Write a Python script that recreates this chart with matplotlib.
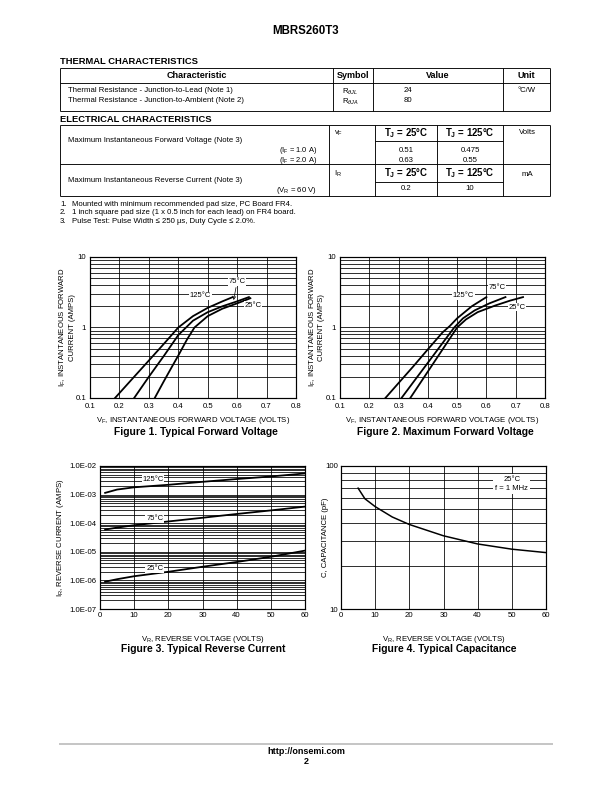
import matplotlib
matplotlib.use("Agg")
import matplotlib.pyplot as plt
from matplotlib.ticker import NullFormatter

plt.rcParams['font.family'] = ['Liberation Sans', 'DejaVu Sans']
plt.rcParams['mathtext.fontset'] = 'custom'
plt.rcParams['mathtext.rm'] = 'Liberation Sans'
plt.rcParams['mathtext.it'] = 'Liberation Sans:italic'
plt.rcParams['mathtext.bf'] = 'Liberation Sans:bold'

# ---- table data ----
thermal_cols = ["Characteristic", "Symbol", "Value", "Unit"]
thermal_chars = ["Thermal Resistance - Junction-to-Lead (Note 1)",
                 "Thermal Resistance - Junction-to-Ambient (Note 2)"]
thermal_syms = [r"R$_{\theta JL}$", r"R$_{\theta JA}$"]
thermal_vals = ["24", "80"]
thermal_unit = "°C/W"

notes = ["Mounted with minimum recommended pad size, PC Board FR4.",
         "1 inch square pad size (1 x 0.5 inch for each lead) on FR4 board.",
         "Pulse Test: Pulse Width \u2264 250 \u00b5s, Duty Cycle \u2264 2.0%."]

# ---- figure 1: typical forward voltage ----
typ_125_v = [0.185, 0.25, 0.30, 0.35, 0.40, 0.45, 0.50, 0.55, 0.585]
typ_125_i = [0.10, 0.20, 0.34, 0.58, 1.0, 1.45, 1.9, 2.35, 2.7]
typ_75_v = [0.25, 0.30, 0.35, 0.40, 0.45, 0.50, 0.55, 0.60, 0.64]
typ_75_i = [0.10, 0.20, 0.39, 0.78, 1.25, 1.65, 2.0, 2.35, 2.7]
typ_25_v = [0.32, 0.35, 0.38, 0.40, 0.43, 0.455, 0.50, 0.55, 0.60, 0.645]
typ_25_i = [0.10, 0.17, 0.285, 0.40, 0.68, 1.0, 1.45, 1.85, 2.2, 2.6]

# ---- figure 2: maximum forward voltage ----
max_125_v = [0.255, 0.30, 0.35, 0.40, 0.45, 0.475, 0.50, 0.55, 0.60]
max_125_i = [0.10, 0.163, 0.28, 0.49, 0.85, 1.05, 1.35, 2.0, 2.7]
max_75_v = [0.31, 0.35, 0.40, 0.45, 0.49, 0.52, 0.56, 0.61, 0.665]
max_75_i = [0.10, 0.167, 0.316, 0.60, 1.0, 1.35, 1.75, 2.2, 2.7]
max_25_v = [0.34, 0.40, 0.45, 0.50, 0.53, 0.57, 0.63, 0.68, 0.725]
max_25_i = [0.10, 0.237, 0.487, 1.0, 1.3, 1.65, 2.05, 2.4, 2.7]

# ---- figure 3: typical reverse current ----
rev_v = [1.5, 5, 10, 20, 30, 40, 50, 60]
rev_125 = [1.15e-3, 1.5e-3, 1.8e-3, 2.2e-3, 2.8e-3, 3.5e-3, 4.3e-3, 5.5e-3]
rev_75 = [6.0e-5, 7.0e-5, 8.5e-5, 1.15e-4, 1.55e-4, 2.1e-4, 2.8e-4, 3.8e-4]
rev_25 = [9.0e-7, 1.1e-6, 1.4e-6, 2.0e-6, 3.0e-6, 4.4e-6, 6.7e-6, 1.1e-5]

# ---- figure 4: typical capacitance ----
cap_v = [5, 7, 10, 15, 20, 30, 40, 50, 60]
cap_pf = [70, 59, 52, 44, 39, 32.5, 28.5, 26.2, 24.8]

W, H = 612, 792
fig = plt.figure(figsize=(W / 72, H / 72), dpi=72)

body = 7.8      # table / notes text
tick_fs = 7.8
xlab_fs = 7.8
cap_fs = 10.3

# page overlay in pixel coordinates
pg = fig.add_axes([0, 0, 1, 1])
pg.set_xlim(0, W)
pg.set_ylim(H, 0)
pg.axis('off')

pg.text(306, 31, "MBRS260T3", ha='center', va='center', fontsize=11.5, fontweight='bold')

# thermal table
pg.text(60, 61, "THERMAL CHARACTERISTICS", va='center', fontsize=9.4, fontweight='bold')
tl, tr, tt, th, tb = 60, 550, 68, 83, 111
tdiv = [333, 373, 503]
pg.hlines([tt, th, tb], tl, tr, color='black', lw=0.9)
pg.vlines([tl, tr] + tdiv, tt, tb, color='black', lw=0.9)
edges = [tl] + tdiv + [tr]
for k, name in enumerate(thermal_cols):
    pg.text((edges[k] + edges[k + 1]) / 2, 76, name, ha='center', va='center',
            fontsize=9, fontweight='bold')
for k in range(2):
    y = 91 + k * 10
    pg.text(68, y, thermal_chars[k], va='center', fontsize=body)
    pg.text(342, y + 1, thermal_syms[k], va='center', fontsize=body)
    pg.text(408, y, thermal_vals[k], ha='center', va='center', fontsize=body)
pg.text(518, 91, thermal_unit, va='center', fontsize=body)

# electrical table
pg.text(60, 119, "ELECTRICAL CHARACTERISTICS", va='center', fontsize=9.4, fontweight='bold')
el, er, et, em, eb = 60, 550, 125, 164, 196
ediv = [329, 375, 437, 503]
pg.hlines([et, em, eb], el, er, color='black', lw=0.9)
pg.hlines([141, 182], 375, 503, color='black', lw=0.9)
pg.vlines([el, er] + ediv, et, eb, color='black', lw=0.9)

tj25 = r"T$_\mathbf{J}$ = 25°C"
tj125 = r"T$_\mathbf{J}$ = 125°C"
hd = 9.6
pg.text(68, 141, "Maximum Instantaneous Forward Voltage (Note 3)", va='center', fontsize=body)
pg.text(317, 151, r"(I$_\mathrm{F}$ = 1.0 A)", ha='right', va='center', fontsize=7.5)
pg.text(317, 161, r"(I$_\mathrm{F}$ = 2.0 A)", ha='right', va='center', fontsize=7.5)
pg.text(334, 133, r"v$_\mathrm{F}$", va='center', fontsize=body)
pg.text(406, 133, tj25, ha='center', va='center', fontsize=hd, fontweight='bold')
pg.text(470, 133, tj125, ha='center', va='center', fontsize=hd, fontweight='bold')
pg.text(527, 133, "Volts", ha='center', va='center', fontsize=body)
pg.text(406, 151, "0.51", ha='center', va='center', fontsize=body)
pg.text(406, 160.5, "0.63", ha='center', va='center', fontsize=body)
pg.text(470, 151, "0.475", ha='center', va='center', fontsize=body)
pg.text(470, 160.5, "0.55", ha='center', va='center', fontsize=body)

pg.text(68, 181, "Maximum Instantaneous Reverse Current (Note 3)", va='center', fontsize=body)
pg.text(317, 190, r"(V$_\mathrm{R}$ = 60 V)", ha='right', va='center', fontsize=body)
pg.text(334, 174, r"I$_\mathrm{R}$", va='center', fontsize=body)
pg.text(406, 173, tj25, ha='center', va='center', fontsize=hd, fontweight='bold')
pg.text(470, 173, tj125, ha='center', va='center', fontsize=hd, fontweight='bold')
pg.text(527, 174, "mA", ha='center', va='center', fontsize=body)
pg.text(406, 189, "0.2", ha='center', va='center', fontsize=body)
pg.text(470, 189, "10", ha='center', va='center', fontsize=body)

for k, note in enumerate(notes):
    y = 204 + k * 8.7
    pg.text(60, y, f"{k + 1}.", va='center', fontsize=body)
    pg.text(72, y, note, va='center', fontsize=body)

# captions and footer
pg.text(196, 432, "Figure 1. Typical Forward Voltage", ha='center', va='center',
        fontsize=cap_fs, fontweight='bold')
pg.text(445, 432, "Figure 2. Maximum Forward Voltage", ha='center', va='center',
        fontsize=cap_fs, fontweight='bold')
pg.text(203, 649, "Figure 3. Typical Reverse Current", ha='center', va='center',
        fontsize=cap_fs, fontweight='bold')
pg.text(444, 649, "Figure 4. Typical Capacitance", ha='center', va='center',
        fontsize=cap_fs, fontweight='bold')
pg.hlines(744, 59, 553, color='#b4b4b4', lw=1.5)
pg.text(306, 752, "http://onsemi.com", ha='center', va='center', fontsize=9, fontweight='bold')
pg.text(306, 762, "2", ha='center', va='center', fontsize=9, fontweight='bold')


def make_axes(left, right, top, bottom):
    ax = fig.add_axes([left / W, 1 - bottom / H, (right - left) / W, (bottom - top) / H])
    for s in ax.spines.values():
        s.set_linewidth(1.2)
    ax.tick_params(which='both', length=0, labelsize=tick_fs)
    return ax


def grid_style(ax):
    ax.grid(True, which='both', color='black', lw=0.8)
    ax.set_axisbelow(True)
    ax.yaxis.set_minor_formatter(NullFormatter())


lbl = dict(fontsize=7.6, ha='center', va='center',
           bbox=dict(facecolor='white', edgecolor='none', pad=0.6))

# Figure 1
ax1 = make_axes(90, 296, 257, 398)
ax1.set_yscale('log')
ax1.set_xlim(0.1, 0.8)
ax1.set_ylim(0.1, 10)
ax1.set_xticks([0.1, 0.2, 0.3, 0.4, 0.5, 0.6, 0.7, 0.8])
ax1.set_yticks([0.1, 1, 10], ["0.1", "1", "10"])
grid_style(ax1)
ax1.tick_params(axis='x', pad=5)
ax1.tick_params(axis='y', pad=4)
ax1.plot(typ_125_v, typ_125_i, color='black', lw=1.8)
ax1.plot(typ_75_v, typ_75_i, color='black', lw=1.8)
ax1.plot(typ_25_v, typ_25_i, color='black', lw=1.8)
ax1.text(0.476, 2.8, "125°C", **lbl)
ax1.annotate("75°C", xy=(0.588, 2.45), xytext=(0.60, 4.5), fontsize=7.6, ha='center', va='center',
             bbox=dict(facecolor='white', edgecolor='none', pad=0.6),
             arrowprops=dict(arrowstyle='->', lw=0.7, color='black', shrinkA=2, shrinkB=0))
ax1.text(0.655, 2.05, "25°C", **lbl)
ax1.set_xlabel(r"V$_\mathrm{F}$, INSTANTANEOUS FORWARD VOLTAGE (VOLTS)", fontsize=xlab_fs)
ax1.set_ylabel("I$_\\mathrm{F}$, INSTANTANEOUS FORWARD\nCURRENT (AMPS)", fontsize=xlab_fs,
               linespacing=1.1)
ax1.xaxis.set_label_coords(0.5, -0.12)
ax1.yaxis.set_label_coords(-0.07, 0.5)

# Figure 2
ax2 = make_axes(340, 545, 257, 398)
ax2.set_yscale('log')
ax2.set_xlim(0.1, 0.8)
ax2.set_ylim(0.1, 10)
ax2.set_xticks([0.1, 0.2, 0.3, 0.4, 0.5, 0.6, 0.7, 0.8])
ax2.set_yticks([0.1, 1, 10], ["0.1", "1", "10"])
grid_style(ax2)
ax2.tick_params(axis='x', pad=5)
ax2.tick_params(axis='y', pad=4)
ax2.plot(max_125_v, max_125_i, color='black', lw=1.8)
ax2.plot(max_75_v, max_75_i, color='black', lw=1.8)
ax2.plot(max_25_v, max_25_i, color='black', lw=1.8)
ax2.text(0.522, 2.8, "125°C", **lbl)
ax2.text(0.635, 3.7, "75°C", **lbl)
ax2.text(0.705, 1.95, "25°C", **lbl)
ax2.set_xlabel(r"V$_\mathrm{F}$, INSTANTANEOUS FORWARD VOLTAGE (VOLTS)", fontsize=xlab_fs)
ax2.set_ylabel("I$_\\mathrm{F}$, INSTANTANEOUS FORWARD\nCURRENT (AMPS)", fontsize=xlab_fs,
               linespacing=1.1)
ax2.xaxis.set_label_coords(0.5, -0.12)
ax2.yaxis.set_label_coords(-0.073, 0.5)

# Figure 3
ax3 = make_axes(100, 305, 466, 609)
ax3.set_yscale('log')
ax3.set_xlim(0, 60)
ax3.set_ylim(1e-7, 1e-2)
ax3.set_xticks([0, 10, 20, 30, 40, 50, 60])
ax3.set_yticks([1e-7, 1e-6, 1e-5, 1e-4, 1e-3, 1e-2],
               ["1.0E-07", "1.0E-06", "1.0E-05", "1.0E-04", "1.0E-03", "1.0E-02"])
grid_style(ax3)
ax3.tick_params(axis='x', pad=3)
ax3.tick_params(axis='y', pad=4)
ax3.plot(rev_v, rev_125, color='black', lw=1.8)
ax3.plot(rev_v, rev_75, color='black', lw=1.8)
ax3.plot(rev_v, rev_25, color='black', lw=1.8)
ax3.text(15.5, 3.4e-3, "125°C", **lbl)
ax3.text(16, 1.45e-4, "75°C", **lbl)
ax3.text(16, 2.6e-6, "25°C", **lbl)
ax3.set_xlabel(r"V$_\mathrm{R}$, REVERSE VOLTAGE (VOLTS)", fontsize=xlab_fs)
ax3.set_ylabel(r"I$_\mathrm{R}$, REVERSE CURRENT (AMPS)", fontsize=xlab_fs)
ax3.xaxis.set_label_coords(0.5, -0.175)
ax3.yaxis.set_label_coords(-0.165, 0.5)

# Figure 4
ax4 = make_axes(341, 546, 466, 609)
ax4.set_yscale('log')
ax4.set_xlim(0, 60)
ax4.set_ylim(10, 100)
ax4.set_xticks([0, 10, 20, 30, 40, 50, 60])
ax4.set_yticks([10, 100], ["10", "100"])
grid_style(ax4)
ax4.tick_params(axis='x', pad=3)
ax4.tick_params(axis='y', pad=3)
ax4.plot(cap_v, cap_pf, color='black', lw=1.5)
ax4.text(50, 75, "25°C\nf = 1 MHz", fontsize=7.6, ha='center', va='center', linespacing=1.5,
         bbox=dict(facecolor='white', edgecolor='none', pad=2))
ax4.set_xlabel(r"V$_\mathrm{R}$, REVERSE VOLTAGE (VOLTS)", fontsize=xlab_fs)
ax4.set_ylabel("C, CAPACITANCE (pF)", fontsize=xlab_fs)
ax4.xaxis.set_label_coords(0.5, -0.175)
ax4.yaxis.set_label_coords(-0.058, 0.5)

fig.savefig("out.png", dpi=72)
